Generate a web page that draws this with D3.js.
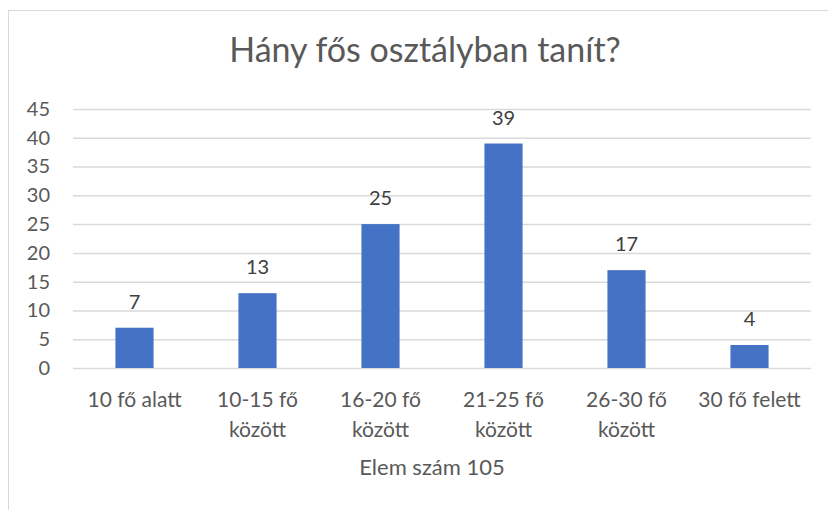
<!DOCTYPE html>
<html>
<head>
<meta charset="utf-8">
<script src="https://cdn.jsdelivr.net/npm/d3@7"></script>
<style>
  body { margin: 0; background: #fff; }
  text { font-family: Lato, "Open Sans", sans-serif; }
</style>
</head>
<body>
<div id="chart"></div>
<script>
// data
const categories = [
    ["10 fő alatt"],
    ["10-15 fő", "között"],
    ["16-20 fő", "között"],
    ["21-25 fő", "között"],
    ["26-30 fő", "között"],
    ["30 fő felett"]
];
const values = [7, 13, 25, 39, 17, 4];
const yTicks = [0, 5, 10, 15, 20, 25, 30, 35, 40, 45];
const titleText = "Hány fős osztályban tanít?";
const axisTitle = "Elem szám 105";

// dimensions
const width = 828;
const height = 510;
const marginTop = 109;
const marginRight = 17;
const marginBottom = 142;
const marginLeft = 73;

const keys = categories.map((d, i) => i);

const x = d3.scaleBand()
    .domain(keys)
    .range([marginLeft, width - marginRight])
    .paddingInner(0.69)
    .paddingOuter(0.345);

const y = d3.scaleLinear()
    .domain([0, 45])
    .range([height - marginBottom, marginTop]);

const svg = d3.select("#chart")
    .append("svg")
    .attr("width", width)
    .attr("height", height)
    .attr("viewBox", [0, 0, width, height]);

// chart border (runs off right and bottom)
svg.append("rect")
    .attr("x", 8.5)
    .attr("y", 10.5)
    .attr("width", 830)
    .attr("height", 520)
    .attr("fill", "none")
    .attr("stroke", "#d9d9d9")
    .attr("stroke-width", 1);

// title
svg.append("text")
    .attr("x", 425)
    .attr("y", 62)
    .attr("text-anchor", "middle")
    .attr("font-size", 34)
    .attr("fill", "#595959")
    .text(titleText);

// grid + y labels
svg.append("g")
    .attr("transform", `translate(${marginLeft},0)`)
    .call(d3.axisLeft(y).tickValues(yTicks).tickSize(-(width - marginLeft - marginRight)).tickPadding(23))
    .call(g => g.select(".domain").remove())
    .call(g => g.selectAll(".tick line").attr("stroke", "#d9d9d9").attr("stroke-width", 1.5))
    .call(g => g.selectAll(".tick text")
        .attr("font-size", 20)
        .attr("fill", "#595959")
        .attr("font-family", "Lato, 'Open Sans', sans-serif"));

// bars
svg.append("g")
    .selectAll("rect")
    .data(values)
    .join("rect")
    .attr("x", (d, i) => x(i))
    .attr("y", d => y(d))
    .attr("width", x.bandwidth())
    .attr("height", d => y(0) - y(d))
    .attr("fill", "#4472c4");

// data labels
svg.append("g")
    .selectAll("text")
    .data(values)
    .join("text")
    .attr("x", (d, i) => x(i) + x.bandwidth() / 2)
    .attr("y", d => y(d) - 19)
    .attr("text-anchor", "middle")
    .attr("font-size", 20)
    .attr("fill", "#404040")
    .text(d => d);

// category labels
const cat = svg.append("g")
    .selectAll("text")
    .data(categories)
    .join("text")
    .attr("x", (d, i) => x(i) + x.bandwidth() / 2)
    .attr("y", y(0) + 39)
    .attr("text-anchor", "middle")
    .attr("font-size", 21)
    .attr("fill", "#595959");

cat.selectAll("tspan")
    .data(d => d)
    .join("tspan")
    .attr("x", function() { return this.parentNode.getAttribute("x"); })
    .attr("dy", (d, i) => i === 0 ? 0 : 30)
    .text(d => d);

// axis title
svg.append("text")
    .attr("x", 432)
    .attr("y", 475)
    .attr("text-anchor", "middle")
    .attr("font-size", 22)
    .attr("fill", "#595959")
    .text(axisTitle);
</script>
</body>
</html>
